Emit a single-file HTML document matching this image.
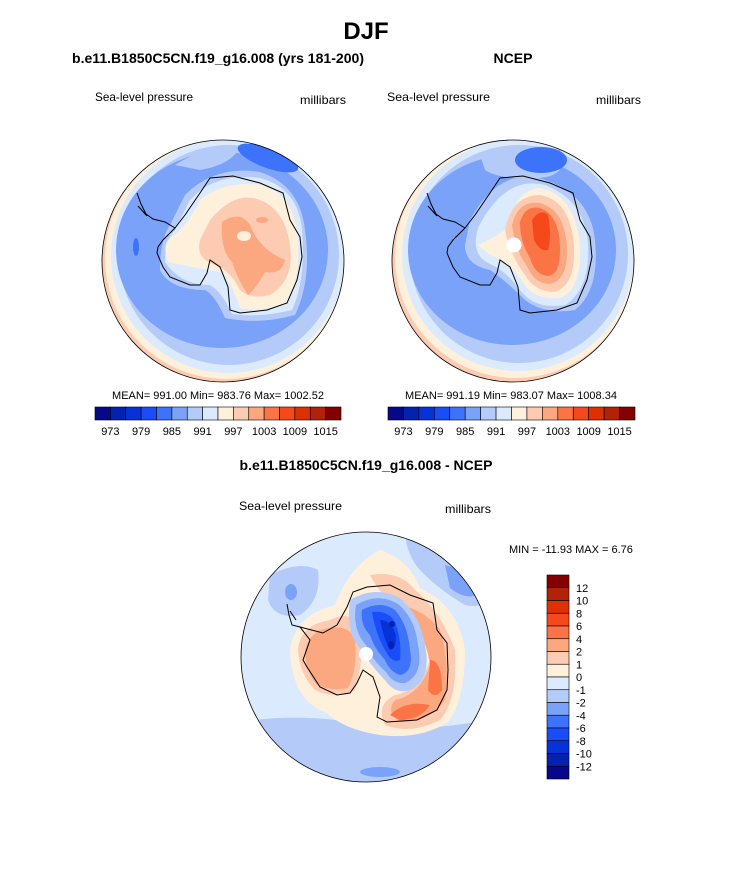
<!DOCTYPE html>
<html><head><meta charset="utf-8">
<style>
html,body{margin:0;padding:0;background:#fff;}
svg{display:block;font-family:"Liberation Sans",Arial,sans-serif;}
</style></head>
<body>
<svg id="fig" width="733" height="882" viewBox="0 0 733 882" xmlns="http://www.w3.org/2000/svg">
<defs>
  <clipPath id="cL"><circle cx="223" cy="261" r="121"/></clipPath>
  <clipPath id="cR"><circle cx="513" cy="261" r="121"/></clipPath>
  <clipPath id="cB"><circle cx="366" cy="657" r="125"/></clipPath>
  <g id="coastTop">
    <path d="M175,228 L185,215 L200,193 L210,178 L233,176 L260,183 L283,193 L290,220 L300,237 L302,257 L297,280 L287,303 L267,310 L240,313 L230,310 L228,287 L220,267 L210,260 L207,273 L200,285 L190,285 L170,277 L163,267 L157,253 L158,247 L163,240 L170,233 Z"/>
    <path d="M175,228 L165,222 L153,219 L146,214 L141,204 L137,193 M138,206 L147,216"/>
  </g>
</defs>

<text x="366" y="39" text-anchor="middle" font-size="24" font-weight="bold">DJF</text>
<text x="72" y="63" font-size="14" font-weight="bold" textLength="292" lengthAdjust="spacingAndGlyphs">b.e11.B1850C5CN.f19_g16.008 (yrs 181-200)</text>
<text x="513" y="63" text-anchor="middle" font-size="14" font-weight="bold">NCEP</text>
<text x="95" y="101" font-size="12" textLength="98" lengthAdjust="spacingAndGlyphs">Sea-level pressure</text>
<text x="300" y="104" font-size="12" textLength="46" lengthAdjust="spacingAndGlyphs">millibars</text>
<text x="387" y="101" font-size="12" textLength="103" lengthAdjust="spacingAndGlyphs">Sea-level pressure</text>
<text x="596" y="104" font-size="12" textLength="45" lengthAdjust="spacingAndGlyphs">millibars</text>

<!-- Left map -->
<g clip-path="url(#cL)">
  <rect x="100" y="138" width="250" height="250" fill="#fccbb1"/>
  <circle cx="226" cy="258" r="121" fill="#fff0dc"/>
  <circle cx="228" cy="256" r="117" fill="#dbeafc"/>
  <circle cx="229" cy="255" r="110" fill="#b4cbfa"/>
  <ellipse cx="222" cy="250" rx="106" ry="98" fill="#7aa2f8"/>
  <path d="M175,165 Q200,148 240,148 Q230,165 200,170 Z" fill="#b4cbfa"/>
  <ellipse cx="268" cy="158" rx="32" ry="10" transform="rotate(20 268 158)" fill="#3d73fa"/>
  <ellipse cx="136" cy="247" rx="3" ry="9" fill="#3d73fa"/>
  <path d="M185,195 Q215,165 260,172 Q300,185 305,230 Q312,280 295,315 Q260,325 225,318 Q215,295 205,290 Q170,290 160,270 Q160,240 170,225 Z" fill="#b4cbfa"/>
  <path d="M190,200 Q215,172 260,178 Q298,188 302,230 Q306,280 292,310 Q260,318 232,314 Q222,292 210,285 Q180,285 165,262 Q165,240 175,230 Z" fill="#dbeafc"/>
  <path d="M200,200 Q225,180 262,185 Q295,195 298,240 Q300,285 285,305 Q255,312 240,308 Q232,285 222,272 Q195,268 168,262 Q162,245 170,238 Q185,230 200,200 Z" fill="#fff0dc"/>
  <path d="M210,220 Q235,190 260,200 Q285,210 290,245 Q295,280 270,295 Q250,300 240,290 Q230,270 215,265 Q195,258 200,240 Z" fill="#fccbb1"/>
  <path d="M222,222 Q240,210 250,225 Q260,250 285,260 Q282,275 265,272 Q255,290 248,295 Q238,280 232,262 Q220,250 222,222 Z" fill="#fba780"/>
  <ellipse cx="244" cy="236" rx="7" ry="5" fill="#fff0dc"/>
  <ellipse cx="262" cy="220" rx="6" ry="3" fill="#fba780"/>
  <use href="#coastTop" fill="none" stroke="#000" stroke-width="1"/>
</g>
<circle cx="223" cy="261" r="121" fill="none" stroke="#000" stroke-width="0.8"/>

<!-- Right map -->
<g clip-path="url(#cR)">
  <rect x="390" y="138" width="250" height="250" fill="#fccbb1"/>
  <circle cx="516" cy="257" r="121" fill="#fff0dc"/>
  <circle cx="518" cy="255" r="116" fill="#dbeafc"/>
  <circle cx="519" cy="254" r="109" fill="#b4cbfa"/>
  <ellipse cx="512" cy="250" rx="104" ry="95" fill="#7aa2f8"/>
  <path d="M480,155 Q520,140 560,150 Q570,175 540,178 Q500,180 485,170 Z" fill="#b4cbfa"/>
  <ellipse cx="541" cy="160" rx="26" ry="13" fill="#3d73fa"/>
  <path d="M470,220 Q500,165 545,180 Q590,195 595,240 Q600,290 575,310 Q545,315 525,300 Q505,280 490,270 Q465,265 465,245 Z" fill="#b4cbfa"/>
  <path d="M478,228 Q505,175 545,185 Q585,200 588,245 Q590,290 565,305 Q535,310 520,290 Q505,270 490,264 Q470,255 478,228 Z" fill="#dbeafc"/>
  <path d="M478,245 Q500,235 510,225 Q515,190 540,188 Q575,195 580,245 Q582,290 560,298 Q535,300 525,285 Q510,262 490,255 Z" fill="#fff0dc"/>
  <path d="M505,230 Q512,195 540,195 Q570,200 574,245 Q576,285 555,292 Q535,292 525,275 Q510,255 505,230 Z" fill="#fccbb1"/>
  <path d="M512,225 Q518,200 540,203 Q565,210 567,248 Q568,280 550,284 Q535,284 528,268 Q515,250 512,225 Z" fill="#fba780"/>
  <path d="M520,222 Q525,205 540,208 Q560,215 560,250 Q560,275 548,276 Q535,275 530,258 Q520,242 520,222 Z" fill="#fa7446"/>
  <path d="M532,220 Q540,208 548,215 Q552,235 548,250 Q540,252 534,240 Z" fill="#f5491c"/>
  <circle cx="514" cy="245" r="7.5" fill="#fff"/>
  <use href="#coastTop" transform="translate(290 0)" fill="none" stroke="#000" stroke-width="1"/>
</g>
<circle cx="513" cy="261" r="121" fill="none" stroke="#000" stroke-width="0.8"/>

<text x="218" y="399" text-anchor="middle" font-size="11">MEAN= 991.00  Min= 983.76  Max= 1002.52</text>
<text x="511" y="399" text-anchor="middle" font-size="11">MEAN= 991.19  Min= 983.07  Max= 1008.34</text>
<g id="cbL"></g>
<g id="cbR"></g>

<text x="366" y="470" text-anchor="middle" font-size="14" font-weight="bold">b.e11.B1850C5CN.f19_g16.008 - NCEP</text>
<text x="239" y="510" font-size="12" textLength="103" lengthAdjust="spacingAndGlyphs">Sea-level pressure</text>
<text x="445" y="513" font-size="12" textLength="46" lengthAdjust="spacingAndGlyphs">millibars</text>
<text x="509" y="553" font-size="11">MIN = -11.93 MAX =  6.76</text>

<!-- Bottom diff map -->
<g clip-path="url(#cB)">
  <rect x="238" y="528" width="258" height="258" fill="#dbeafc"/>
  <path d="M270,575 Q300,560 318,570 Q322,600 300,615 Q275,620 268,600 Z" fill="#b4cbfa"/>
  <ellipse cx="291" cy="592" rx="6" ry="8" fill="#7aa2f8"/>
  <path d="M405,535 Q450,535 490,590 Q488,610 465,605 Q440,590 425,575 Q408,560 405,535 Z" fill="#b4cbfa"/>
  <path d="M445,565 Q468,570 478,595 Q465,600 450,588 Z" fill="#7aa2f8"/>
  <path d="M240,722 Q300,712 370,725 Q430,733 495,718 L495,790 L240,790 Z" fill="#b4cbfa"/>
  <ellipse cx="380" cy="772" rx="20" ry="5" fill="#7aa2f8"/>
  <path d="M290,650 Q295,615 335,605 Q350,565 380,550 Q410,560 420,588 Q458,605 465,650 Q465,700 448,722 Q420,740 380,735 Q345,730 325,712 Q292,700 290,650 Z" fill="#fff0dc"/>
  <path d="M298,650 Q300,625 330,620 Q350,610 360,625 Q365,660 355,690 Q335,700 315,690 Q300,675 298,650 Z" fill="#fccbb1"/>
  <path d="M305,650 Q310,630 330,628 Q350,625 355,640 Q358,668 348,688 Q330,692 316,684 Q305,670 305,650 Z" fill="#fba780"/>
  <path d="M370,575 Q400,570 415,590 Q440,610 455,650 Q458,700 440,720 Q410,735 385,725 Q375,705 395,695 Q420,690 430,660 Q425,625 400,610 Q380,595 370,575 Z" fill="#fccbb1"/>
  <path d="M400,605 Q425,610 440,630 Q450,660 445,700 Q430,722 400,722 Q385,712 395,700 Q420,695 430,665 Q425,630 405,618 Z" fill="#fba780"/>
  <path d="M430,660 Q442,660 442,690 Q435,700 428,690 Z" fill="#fa7446"/>
  <path d="M390,715 Q405,700 430,705 Q420,720 400,720 Z" fill="#fa7446"/>
  <path d="M350,600 Q375,585 400,598 Q420,615 425,645 Q432,680 410,690 Q395,695 385,680 Q370,665 362,650 Q345,635 350,600 Z" fill="#b4cbfa"/>
  <path d="M356,605 Q378,592 398,604 Q415,618 418,645 Q424,675 405,683 Q393,684 386,672 Q372,660 366,645 Q352,630 356,605 Z" fill="#7aa2f8"/>
  <path d="M362,610 Q380,600 395,610 Q408,625 410,650 Q414,672 400,675 Q390,672 385,660 Q374,648 370,635 Q360,625 362,610 Z" fill="#3d73fa"/>
  <path d="M372,612 Q388,610 395,622 Q402,640 400,660 Q392,664 385,650 Q376,635 372,612 Z" fill="#1a4dfa"/>
  <path d="M380,620 Q392,620 396,636 Q396,650 390,650 Q384,640 380,620 Z" fill="#0533d8"/>
  <ellipse cx="392" cy="624" rx="3" ry="3" fill="#0022b0"/>
  <ellipse cx="391" cy="645" rx="3" ry="4" fill="#0022b0"/>
  <circle cx="366" cy="654" r="7" fill="#fff"/>
  <path d="M323,633 L337,625 L347,607 L353,592 L367,587 L390,585 L410,595 L433,603 L437,630 L447,643 L448,670 L447,690 L437,710 L417,720 L387,722 L377,717 L380,697 L373,677 L363,670 L357,683 L350,693 L337,695 L320,687 L307,667 L303,660 L310,640 L300,627 Z" fill="none" stroke="#000" stroke-width="1"/>
  <path d="M300,627 L292,625 L289,615 L287,604 M290,611 L296,620" fill="none" stroke="#000" stroke-width="1"/>
</g>
<circle cx="366" cy="657" r="125" fill="none" stroke="#000" stroke-width="0.8"/>
<g id="cbV"></g>
</svg>
<script>
const boxColors = ["#07078a","#0322b0","#0533d8","#1a4dfa","#3d73fa","#7aa2f8","#b4cbfa","#dbeafc","#fff0dc","#fccbb1","#fba780","#fa7446","#f5491c","#df3000","#b22208","#850000"];
const slpTickLabels = ["973","979","985","991","997","1003","1009","1015"];
const diffTickLabels = ["12","10","8","6","4","2","1","0","-1","-2","-4","-6","-8","-10","-12"];
const NS="http://www.w3.org/2000/svg";
function mk(tag,attrs,parent){const e=document.createElementNS(NS,tag);for(const k in attrs)e.setAttribute(k,attrs[k]);parent.appendChild(e);return e;}
function hbar(id,x0,x1,y,h){
  const g=document.getElementById(id);const w=(x1-x0)/boxColors.length;
  boxColors.forEach((c,i)=>{const r=mk('rect',{x:x0+i*w,y:y,width:w,height:h,fill:c,stroke:'#000','stroke-width':0.6},g);
    
    });
  slpTickLabels.forEach((t,j)=>{const tx=mk('text',{x:x0+(1+2*j)*w,y:y+h+15,'text-anchor':'middle','font-size':11},g);tx.textContent=t;
    
    });
}
hbar('cbL',95,341,407,13);
hbar('cbR',388,635,407,13);
(function(){
  const g=document.getElementById('cbV');const x=547,y0=575,y1=779;const h=(y1-y0)/boxColors.length;
  const rev=boxColors.slice().reverse();
  rev.forEach((c,i)=>{const r=mk('rect',{x:x,y:y0+i*h,width:22,height:h,fill:c,stroke:'#000','stroke-width':0.6},g);
    
    });
  diffTickLabels.forEach((t,j)=>{const tx=mk('text',{x:576,y:y0+(j+1)*h+4,'font-size':11},g);tx.textContent=t;
    
    });
})();
</script>
</body></html>
